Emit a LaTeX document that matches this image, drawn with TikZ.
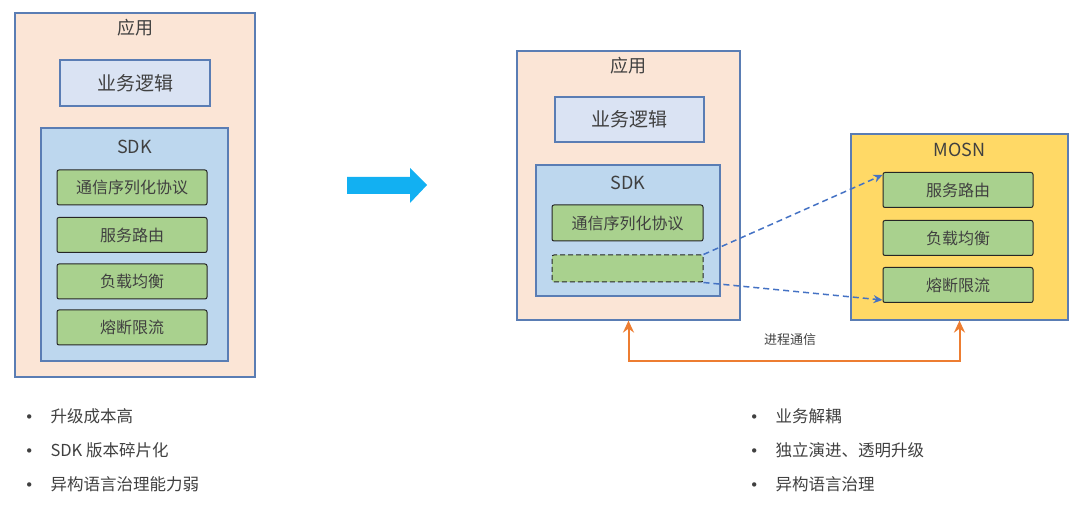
\documentclass[tikz,border=0pt]{standalone}
\usepackage{fontspec}
\setmainfont{Noto Sans CJK SC}
\newfontfamily\dotfont{DejaVu Sans}
\usetikzlibrary{arrows.meta}
\definecolor{txtgray}{HTML}{404040}
\definecolor{framblue}{HTML}{5A7DB4}
\definecolor{appfill}{HTML}{FBE5D6}
\definecolor{bizfill}{HTML}{DAE3F3}
\definecolor{sdkfill}{HTML}{BDD7EE}
\definecolor{greenfill}{HTML}{A9D18E}
\definecolor{mosnfill}{HTML}{FFD966}
\definecolor{linkblue}{HTML}{4472C4}
\definecolor{ipcorange}{HTML}{ED7D31}
\definecolor{bigarrow}{HTML}{12B0F2}

\begin{document}
\begin{tikzpicture}[x=1pt, y=-1pt, text=txtgray,
  frame/.style={draw=framblue, line width=1.2pt, inner sep=0pt},
  appbox/.style={frame, fill=appfill},
  bizbox/.style={frame, fill=bizfill, minimum width=150pt, minimum height=46pt, font=\fontsize{19}{21}\selectfont},
  sdkbox/.style={frame, fill=sdkfill},
  mosnbox/.style={frame, fill=mosnfill},
  gbox/.style={draw=black!85, line width=1pt, rounded corners=2pt, fill=greenfill, minimum width=150pt, minimum height=35pt, inner sep=0pt, font=\fontsize{16}{18}\selectfont},
  title/.style={font=\fontsize{18}{20}\selectfont},
  bullet/.style={anchor=west, font=\fontsize{16.5}{19}\selectfont},
  dot/.style={anchor=base east, inner sep=0pt, font=\dotfont\fontsize{15}{17}\selectfont}]

\useasboundingbox (0,0) rectangle (1080,510);

% before: app with fat SDK
\node[appbox, minimum width=240pt, minimum height=364pt] at (135,195) (app1) {};
\node[title] at (135,28) (app1t) {应用};
\node[bizbox] at (135,83) (biz1) {业务逻辑};
\node[sdkbox, minimum width=187pt, minimum height=233pt] at (134.5,244.5) (sdk1) {};
\node[title] at (134.5,147) (sdk1t) {SDK};
\node[gbox] at (132,187.5) (a1) {通信序列化协议};
\node[gbox] at (132,235) (a2) {服务路由};
\node[gbox] at (132,281.5) (a3) {负载均衡};
\node[gbox] at (132,327.5) (a4) {熔断限流};

% big arrow
\fill[bigarrow] (347,177) -- (410,177) -- (410,168) -- (427,185) -- (410,203) -- (410,194) -- (347,194) -- cycle;

% after: app with thin SDK + MOSN sidecar
\node[appbox, minimum width=223pt, minimum height=269pt] at (628.5,185.5) (app2) {};
\node[title] at (628.5,66) (app2t) {应用};
\node[bizbox, minimum width=149pt, minimum height=45pt] at (629.5,119.5) (biz2) {业务逻辑};
\node[sdkbox, minimum width=184pt, minimum height=131pt] at (628,230.5) (sdk2) {};
\node[title] at (628,183) (sdk2t) {SDK};
\node[gbox, minimum width=151pt, minimum height=36pt] at (627.5,223) (b1) {通信序列化协议};
\node[gbox, dash pattern=on 5pt off 3pt, minimum width=151pt, minimum height=27pt] at (627.5,268.5) (b2) {};

\node[mosnbox, minimum width=217pt, minimum height=186pt] at (959.5,227) (mosn) {};
\node[title] at (959.5,150) (mosnt) {MOSN};
\node[gbox] at (958,190) (m1) {服务路由};
\node[gbox] at (958,238) (m2) {负载均衡};
\node[gbox] at (958,285) (m3) {熔断限流};

\draw[linkblue, line width=1.5pt, dash pattern=on 6pt off 4pt, -{Stealth[length=9pt,width=8pt]}] (b2.north east) -- ([yshift=15pt]m1.west);
\draw[linkblue, line width=1.5pt, dash pattern=on 6pt off 4pt, -{Stealth[length=9pt,width=8pt]}] (b2.south east) -- ([yshift=-15pt]m3.west);

\draw[ipcorange, line width=2pt, {Stealth[length=12pt,width=11pt,inset=4pt]}-{Stealth[length=12pt,width=11pt,inset=4pt]}] (app2.south) -- ++(0,40) -| (mosn.south);
\node[font=\fontsize{13}{15}\selectfont] at (790,340) (ipc) {进程通信};

% bullets
\node[bullet] at (47,416) (l1) {升级成本高};
\node[bullet] at (47,450) (l2) {SDK 版本碎片化};
\node[bullet] at (47,484) (l3) {异构语言治理能力弱};
\foreach \n in {l1,l2,l3} \node[dot] at ([xshift=-13pt]\n.base west) {•};

\node[bullet] at (772,416) (r1) {业务解耦};
\node[bullet] at (772,450) (r2) {独立演进、透明升级};
\node[bullet] at (772,484) (r3) {异构语言治理};
\foreach \n in {r1,r2,r3} \node[dot] at ([xshift=-13pt]\n.base west) {•};
\end{tikzpicture}
\end{document}
